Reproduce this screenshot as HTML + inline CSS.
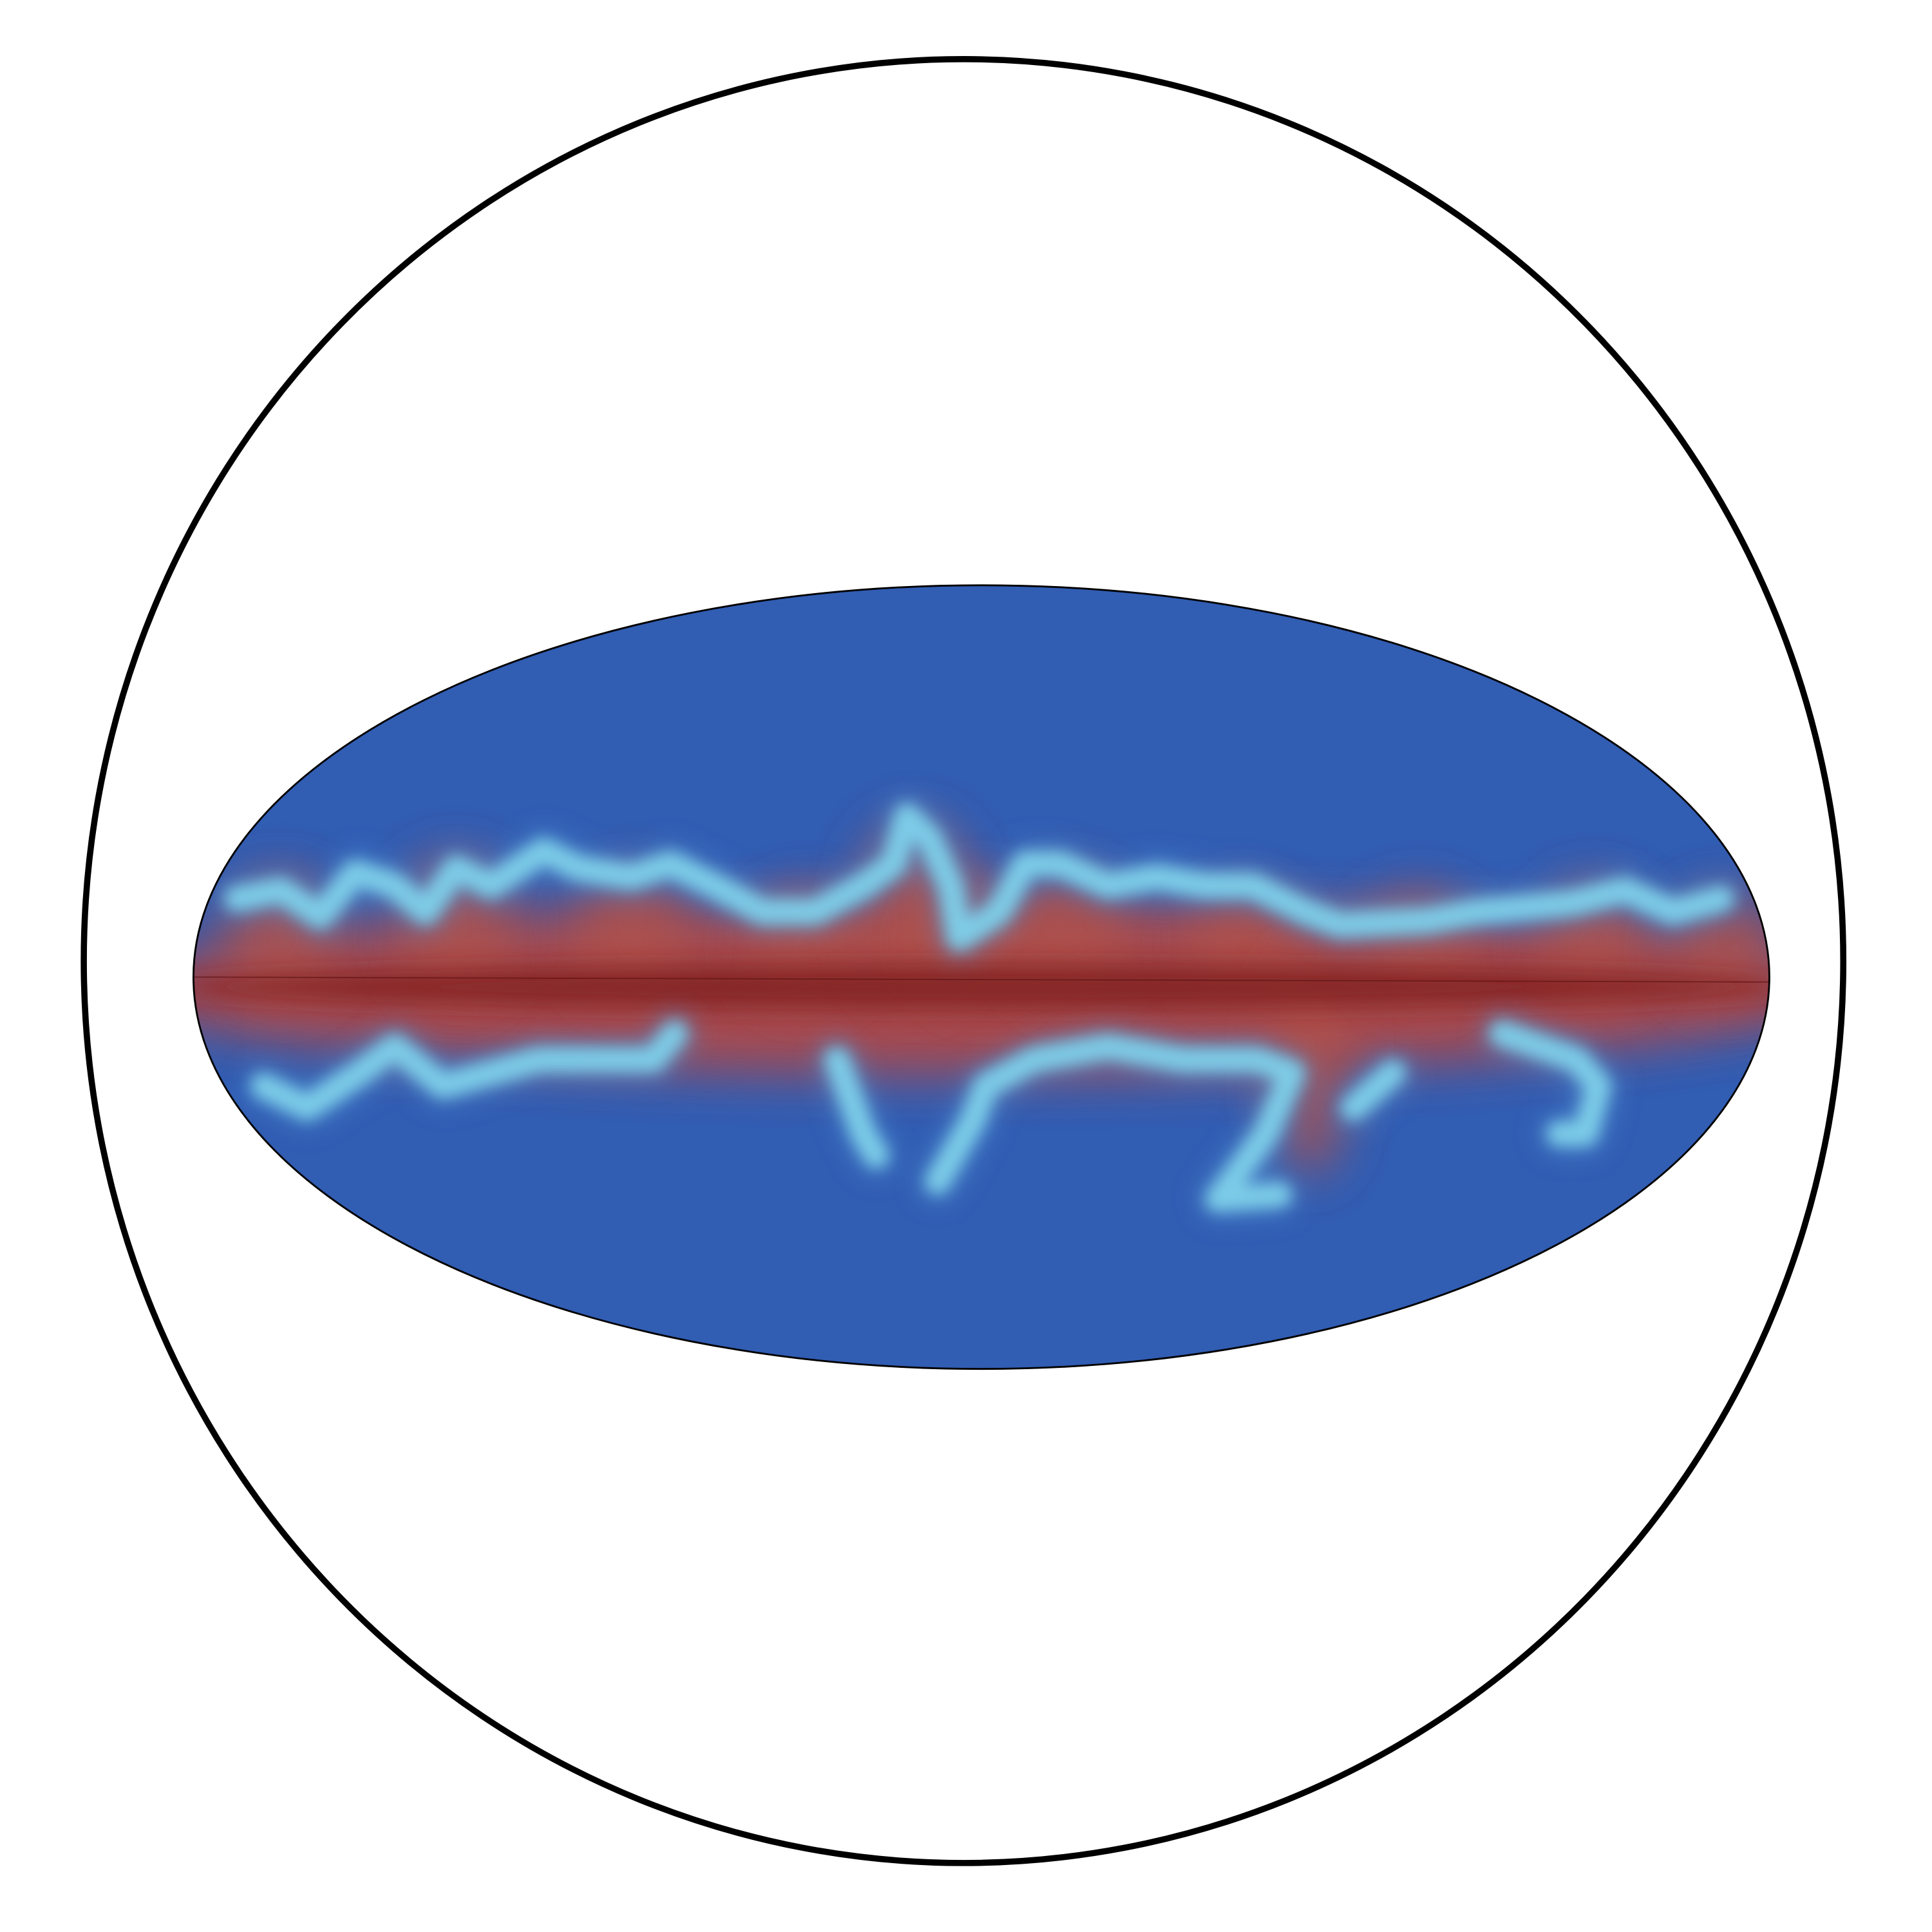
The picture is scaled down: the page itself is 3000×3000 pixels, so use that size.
<!DOCTYPE html>
<html><head><meta charset="utf-8"><style>
html,body{margin:0;padding:0;background:#fff;width:3000px;height:3000px;overflow:hidden}
svg{display:block}
</style></head><body>
<svg id="chart" width="3000" height="3000" viewBox="0 0 1568 1568" xmlns="http://www.w3.org/2000/svg">
<defs>
<clipPath id="clipE"><ellipse cx="796.5" cy="793" rx="639.5" ry="318"/></clipPath>
<filter id="blurBig" filterUnits="userSpaceOnUse" x="0" y="0" width="1568" height="1568"><feGaussianBlur stdDeviation="20"/></filter>
<filter id="blurMid" filterUnits="userSpaceOnUse" x="0" y="0" width="1568" height="1568"><feGaussianBlur stdDeviation="10"/></filter>
<filter id="blurSm" filterUnits="userSpaceOnUse" x="0" y="0" width="1568" height="1568"><feGaussianBlur stdDeviation="6"/></filter>
</defs>
<ellipse cx="782" cy="780" rx="714" ry="732" fill="none" stroke="#000" stroke-width="5"/>
<ellipse cx="796.5" cy="793" rx="639.5" ry="318" fill="#315db3"/>
<g id="layers" clip-path="url(#clipE)"></g>
<ellipse cx="796.5" cy="793" rx="639.5" ry="318" fill="none" stroke="#000" stroke-width="1.5"/>
</svg>
<script>
// ridge data: longitude (deg, -180..180) and latitude (deg)
const upperLon=[-170,-160,-151,-143,-134,-127,-120,-112,-100,-92,-80,-71,-61,-50,-38,-27,-20,-17,-12,-7,-5,4,10,18,29,40,51,62,74,82,102,113,124,135,147,158,169];
const upperLat=[18,20,14,24,21,15,25,21,29,25,23,26,21,15,15,21,26,37,32,21,9,15,26,26,21,23,21,21,15,12,13,15,16,17,20,15,18];
const lower1Lon=[-164,-154,-142,-134,-123,-112,-101,-75,-70];
const lower1Lat=[-25,-30,-22,-16,-25,-22,-19,-19,-13];
const lower2Lon=[-33,-27,-24];
const lower2Lat=[-19,-36,-41];
const lower3Lon=[-10,-2,1,12,29,46,63,71,65,57,54,68];
const lower3Lat=[-47,-33,-25,-19,-16,-19,-19,-22,-36,-47,-51,-50];
const lower4Lon=[85,94];
const lower4Lat=[-30,-22];
const lower5Lon=[119,136,141,138,132];
const lower5Lat=[-13,-19,-25,-36,-36];
// red band bulges
const bulgeLon=[-160,-120,-80,-40,-15,0,20,60,75,100,140,170];
const bulgeHeight=[18,22,18,14,30,16,18,14,-40,14,16,14];

const CX=796.5, CY=793, RX=639.5, RY=318;
const xScale=lon=>CX+lon/180*RX;
const yScale=lat=>CY-lat/90*RY;
const NS='http://www.w3.org/2000/svg';
const g=document.getElementById('layers');
function mk(t,a){const e=document.createElementNS(NS,t);for(const k in a)e.setAttribute(k,a[k]);return e;}

// red galactic band
const band=mk('ellipse',{cx:CX,cy:CY+10,rx:RX+60,ry:70,fill:'#ad4a48',opacity:0.95,filter:'url(#blurBig)'});


g.appendChild(band);
bulgeLon.forEach((lon,i)=>{
  const h=bulgeHeight[i];
  const e=mk('ellipse',{cx:xScale(lon),cy:yScale(h/2),rx:h<-20?32:48,ry:Math.abs(yScale(h)-yScale(0))/2+20,fill:'#b0514c',opacity:0.8,filter:'url(#blurBig)'});
  
  
  g.appendChild(e);
});
const core=mk('ellipse',{cx:CX,cy:CY+8,rx:RX+20,ry:18,fill:'#7e1d1e',opacity:0.8,filter:'url(#blurMid)'});


g.appendChild(core);
const eq=mk('line',{x1:CX-RX,y1:CY,x2:CX+RX,y2:CY+4,stroke:'#5a1010',opacity:0.6,'stroke-width':1});


g.appendChild(eq);

function ridge(lons,lats,name){
  const pts=lons.map((l,i)=>xScale(l).toFixed(1)+','+yScale(lats[i]).toFixed(1)).join(' ');
  const halo=mk('polyline',{points:pts,fill:'none',stroke:'#4f8fd0',opacity:0.55,'stroke-width':34,'stroke-linejoin':'round','stroke-linecap':'round',filter:'url(#blurMid)'});
  
  
  g.appendChild(halo);
  const p=mk('polyline',{points:pts,fill:'none',stroke:'#7fd0ea',opacity:0.95,'stroke-width':20,'stroke-linejoin':'round','stroke-linecap':'round',filter:'url(#blurSm)'});
  
  
  g.appendChild(p);
}
ridge(upperLon,upperLat,'upper-ridge');
ridge(lower1Lon,lower1Lat,'lower-ridge-west');
ridge(lower2Lon,lower2Lat,'lower-ridge-center');
ridge(lower3Lon,lower3Lat,'lower-ridge-arc');
ridge(lower4Lon,lower4Lat,'lower-ridge-small');
ridge(lower5Lon,lower5Lat,'lower-ridge-east');
</script>
</body></html>
